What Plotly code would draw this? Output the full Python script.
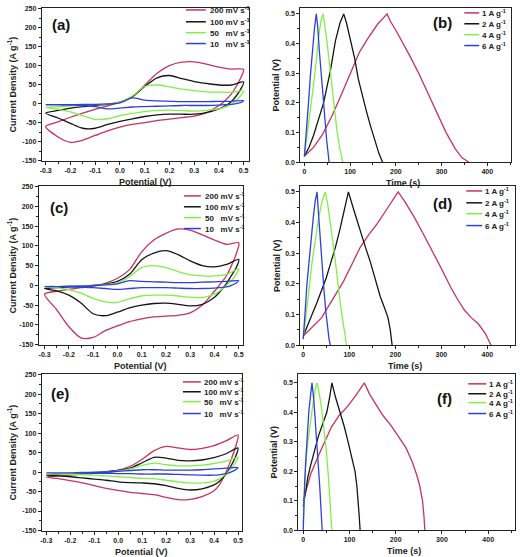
import plotly.graph_objects as go

# ---------------- DATA ----------------
CV_LABELS = ["200 mV s<sup>-1</sup>", "100 mV s<sup>-1</sup>",
             "50\u00a0\u00a0\u00a0mV s<sup>-1</sup>", "10\u00a0\u00a0\u00a0mV s<sup>-1</sup>"]
GCD_LABELS = ["1 A g<sup>-1</sup>", "2 A g<sup>-1</sup>", "4 A g<sup>-1</sup>", "6 A g<sup>-1</sup>"]

POT_UP = [-0.3, -0.25, -0.2, -0.15, -0.1, -0.05, 0.0, 0.05, 0.1, 0.15, 0.2, 0.25, 0.3, 0.35, 0.4, 0.45, 0.5]
POT_DN = [0.5, 0.49, 0.47, 0.45, 0.42, 0.4, 0.35, 0.3, 0.25, 0.2, 0.15, 0.1, 0.05, 0.0, -0.05, -0.1, -0.15, -0.2, -0.25, -0.3]

# panel (a)
A200_UP = [-60, -48, -36, -25, -15, -6, 3, 18, 48, 80, 100, 109, 110, 104, 96, 91, 90]
A200_DN = [90, 70, 45, 25, 5, -5, -24, -33, -37, -41, -45, -50, -55, -62, -72, -84, -96, -102, -88, -60]
A100_UP = [-25, -18, -12, -8, -5, -2, 4, 18, 45, 68, 74, 66, 58, 53, 49, 49, 57]
A100_DN = [57, 40, 20, 5, -8, -14, -24, -28, -28, -28, -30, -34, -40, -47, -55, -65, -65, -52, -38, -25]
A50_UP = [-10, -8, -6, -5, -3, -1, 4, 20, 45, 49, 44, 38, 34, 31, 30, 30, 33]
A50_DN = [33, 22, 8, -2, -10, -14, -18, -20, -18, -17, -18, -21, -26, -32, -40, -42, -32, -22, -15, -10]
A10_UP = [-3, -3, -3, -2, -2, -1, 2, 15, 9, 7, 6, 5, 5, 5, 6, 6, 8]
A10_DN = [8, 3, 0, -2, -3, -4, -5, -5, -5, -6, -7, -8, -9, -12, -14, -8, -5, -4, -3, -3]

# panel (c)
C200_UP = [-22, -15, -10, -6, -2, 5, 18, 40, 85, 115, 132, 143, 140, 128, 115, 104, 108]
C200_DN = [108, 80, 50, 25, 0, -15, -50, -70, -76, -78, -80, -85, -92, -103, -115, -132, -133, -105, -62, -22]
C100_UP = [-8, -6, -4, -2, 0, 3, 10, 28, 65, 82, 88, 78, 62, 50, 47, 53, 66]
C100_DN = [66, 45, 25, 5, -18, -30, -48, -52, -48, -45, -46, -50, -57, -68, -77, -72, -45, -25, -14, -8]
C50_UP = [-4, -3, -2, -1, 0, 2, 6, 22, 45, 50, 45, 35, 27, 24, 24, 28, 42]
C50_DN = [42, 28, 12, 0, -15, -22, -31, -30, -27, -25, -25, -27, -34, -43, -42, -33, -20, -11, -6, -4]
C10_UP = [-3, -3, -2, -2, -1, 1, 4, 12, 10, 9, 8, 7, 7, 8, 9, 10, 12]
C10_DN = [12, 6, 0, -4, -6, -7, -8, -8, -7, -6, -6, -6, -8, -10, -8, -6, -5, -4, -3, -3]

# panel (e)
E200_UP = [-13, -10, -8, -5, -3, 0, 5, 15, 33, 55, 66, 62, 58, 61, 68, 80, 95]
E200_DN = [95, 65, 30, 0, -35, -48, -63, -70, -71, -65, -58, -55, -52, -47, -42, -35, -28, -22, -17, -13]
E100_UP = [-8, -6, -4, -3, -1, 1, 4, 10, 24, 38, 36, 30, 29, 31, 37, 47, 62]
E100_DN = [62, 40, 15, -5, -25, -33, -43, -46, -42, -35, -30, -28, -27, -25, -21, -18, -15, -12, -10, -8]
E50_UP = [-5, -4, -3, -2, -1, 0, 3, 8, 17, 23, 19, 16, 16, 18, 22, 28, 38]
E50_DN = [38, 25, 8, -5, -18, -23, -28, -28, -25, -21, -17, -16, -14, -12, -10, -8, -7, -6, -5, -5]
E10_UP = [-2, -2, -2, -1, -1, 0, 2, 4, 6, 6, 5, 5, 5, 6, 8, 10, 12]
E10_DN = [12, 6, 0, -4, -7, -8, -8, -7, -6, -5, -5, -5, -4, -4, -3, -3, -2, -2, -2, -2]

# panel (b)
B1_T = [0, 20, 40, 60, 80, 100, 120, 140, 160, 181, 188, 200, 215, 230, 250, 270, 290, 310, 330, 345, 360]
B1_V = [0.02, 0.05, 0.095, 0.155, 0.225, 0.3, 0.37, 0.42, 0.465, 0.5, 0.475, 0.445, 0.405, 0.36, 0.3, 0.235, 0.165, 0.1, 0.045, 0.015, 0.0]
B2_T = [0, 10, 20, 30, 42, 57, 68, 78, 86, 92, 100, 110, 118, 127, 136, 145, 155, 163, 171]
B2_V = [0.02, 0.05, 0.09, 0.14, 0.2, 0.31, 0.41, 0.47, 0.5, 0.47, 0.42, 0.35, 0.28, 0.22, 0.17, 0.12, 0.07, 0.03, 0.0]
B4_T = [0, 5, 13, 19, 24, 31, 36, 41, 45, 50, 55, 60, 66, 71, 77, 84]
B4_V = [0.02, 0.08, 0.17, 0.25, 0.31, 0.42, 0.475, 0.5, 0.46, 0.4, 0.33, 0.26, 0.18, 0.11, 0.05, 0.0]
B6_T = [0, 4, 9, 13, 17, 22, 26, 29, 33, 37, 42, 46, 49, 52, 54]
B6_V = [0.02, 0.09, 0.2, 0.29, 0.37, 0.45, 0.5, 0.46, 0.37, 0.29, 0.2, 0.12, 0.07, 0.03, 0.0]

# panel (d)
D1_T = [0, 20, 40, 52, 70, 88, 106, 124, 142, 160, 180, 195, 206, 220, 240, 260, 280, 300, 320, 335, 350, 365, 380, 395, 408]
D1_V = [0.03, 0.06, 0.09, 0.12, 0.165, 0.21, 0.265, 0.32, 0.36, 0.395, 0.44, 0.475, 0.5, 0.47, 0.42, 0.365, 0.31, 0.25, 0.19, 0.15, 0.115, 0.09, 0.07, 0.04, 0.0]
D2_T = [0, 10, 20, 30, 40, 50, 60, 70, 80, 90, 98, 110, 124, 135, 146, 157, 167, 177, 184, 189, 193]
D2_V = [0.03, 0.065, 0.1, 0.14, 0.18, 0.22, 0.27, 0.32, 0.38, 0.445, 0.5, 0.44, 0.37, 0.32, 0.27, 0.21, 0.16, 0.12, 0.09, 0.05, 0.0]
D4_T = [0, 5, 9, 14, 19, 26, 34, 41, 48, 53, 59, 64, 70, 75, 81, 87, 94]
D4_V = [0.02, 0.08, 0.13, 0.2, 0.27, 0.34, 0.42, 0.47, 0.5, 0.46, 0.4, 0.34, 0.27, 0.2, 0.13, 0.07, 0.0]
D6_T = [0, 3, 5, 8, 12, 17, 22, 26, 30, 33, 37, 41, 45, 49, 52, 56, 59]
D6_V = [0.02, 0.07, 0.13, 0.2, 0.27, 0.35, 0.42, 0.47, 0.5, 0.43, 0.34, 0.26, 0.18, 0.11, 0.06, 0.02, 0.0]

# panel (f)
F1_T = [0, 8, 16, 32, 46, 61, 78, 96, 115, 132, 144, 158, 172, 190, 208, 222, 235, 245, 252, 258, 261, 263]
F1_V = [0.1, 0.15, 0.19, 0.25, 0.3, 0.35, 0.39, 0.42, 0.46, 0.5, 0.46, 0.425, 0.39, 0.355, 0.315, 0.28, 0.235, 0.19, 0.15, 0.1, 0.05, 0.0]
F2_T = [0, 5, 10, 16, 24, 33, 42, 51, 57, 62, 70, 80, 89, 97, 105, 112, 116, 119, 121, 123]
F2_V = [0.08, 0.13, 0.18, 0.22, 0.27, 0.32, 0.36, 0.4, 0.45, 0.5, 0.45, 0.4, 0.35, 0.3, 0.25, 0.2, 0.15, 0.1, 0.05, 0.0]
F4_T = [0, 2, 5, 10, 16, 22, 26, 30, 35, 40, 45, 50, 54, 57, 59, 62]
F4_V = [0.02, 0.1, 0.21, 0.3, 0.38, 0.44, 0.48, 0.5, 0.46, 0.41, 0.34, 0.27, 0.19, 0.12, 0.06, 0.0]
F6_T = [0, 1, 3, 6, 9, 12, 16, 19, 23, 26, 30, 33, 36, 38, 40, 41]
F6_V = [0.0, 0.08, 0.16, 0.25, 0.33, 0.4, 0.46, 0.5, 0.44, 0.38, 0.29, 0.21, 0.14, 0.08, 0.03, 0.0]

CV_XTICKS = [-0.3, -0.2, -0.1, 0.0, 0.1, 0.2, 0.3, 0.4, 0.5]
CV_XTEXT = ["-0.3", "-0.2", "-0.1", "0.0", "0.1", "0.2", "0.3", "0.4", "0.5"]
CV_YTICKS = [-150, -100, -50, 0, 50, 100, 150, 200, 250]
CV_YTEXT = ["-150", "-100", "-50", "0", "50", "100", "150", "200", "250"]
GCD_XTICKS = [0, 100, 200, 300, 400]
GCD_YTICKS = [0.0, 0.1, 0.2, 0.3, 0.4, 0.5]
GCD_YTEXT = ["0.0", "0.1", "0.2", "0.3", "0.4", "0.5"]

# ---------------- STYLE ----------------
W, H = 520, 557
COLORS = ["#c8325f", "#151515", "#80f048", "#2f3fdc"]
FONT = "Liberation Sans, Arial, sans-serif"


def fx(p):
    return p / W


def fy(p):
    return 1 - p / H


fig = go.Figure()

cv_sets = {
    "": [(A200_UP, A200_DN), (A100_UP, A100_DN), (A50_UP, A50_DN), (A10_UP, A10_DN)],
    "3": [(C200_UP, C200_DN), (C100_UP, C100_DN), (C50_UP, C50_DN), (C10_UP, C10_DN)],
    "5": [(E200_UP, E200_DN), (E100_UP, E100_DN), (E50_UP, E50_DN), (E10_UP, E10_DN)],
}
for sfx, sets in cv_sets.items():
    for i, (up, dn) in enumerate(sets):
        fig.add_trace(go.Scatter(
            x=POT_UP + POT_DN[1:], y=up + dn[1:], mode="lines",
            line=dict(color=COLORS[i], width=1.3, shape="spline", smoothing=0.8),
            name=CV_LABELS[i], showlegend=False,
            xaxis="x" + sfx, yaxis="y" + sfx))

gcd_sets = {
    "2": [(B1_T, B1_V), (B2_T, B2_V), (B4_T, B4_V), (B6_T, B6_V)],
    "4": [(D1_T, D1_V), (D2_T, D2_V), (D4_T, D4_V), (D6_T, D6_V)],
    "6": [(F1_T, F1_V), (F2_T, F2_V), (F4_T, F4_V), (F6_T, F6_V)],
}
for sfx, sets in gcd_sets.items():
    for i, (t, v) in enumerate(sets):
        fig.add_trace(go.Scatter(
            x=t, y=v, mode="lines",
            line=dict(color=COLORS[i], width=1.3),
            name=GCD_LABELS[i], showlegend=False,
            xaxis="x" + sfx, yaxis="y" + sfx))

# panel boxes in window pixels: (left, right, top, bottom)
BOX = {
    "": (40, 248, 5, 160),
    "2": (300, 512, 5, 161),
    "3": (37, 242, 185, 346),
    "4": (300, 516, 185, 346),
    "5": (40, 241, 375, 534),
    "6": (298, 516, 375, 533),
}
RANGES = {
    "": ([-0.316, 0.52], [-152, 252]),
    "2": ([-9, 452], [0, 0.52]),
    "3": ([-0.324, 0.516], [-152, 252]),
    "4": ([-6.5, 460], [0, 0.519]),
    "5": ([-0.319, 0.515], [-152, 252]),
    "6": ([-10.7, 458], [0, 0.53]),
}

tickfont = dict(family=FONT, size=7, color="#222", weight="bold")
common = dict(showline=True, linecolor="#222", linewidth=1, mirror=True,
              showgrid=False, zeroline=False, ticks="outside", ticklen=3,
              tickwidth=1, tickcolor="#222", tickfont=tickfont)

layout = {}
for sfx, (l, r, t, b) in BOX.items():
    xr, yr = RANGES[sfx]
    is_cv = sfx in ("", "3", "5")
    xa = dict(common, domain=[fx(l), fx(r)], anchor="y" + sfx, range=xr, ticklabelstandoff=-1)
    ya = dict(common, domain=[fy(b), fy(t)], anchor="x" + sfx, range=yr)
    if is_cv:
        xa.update(tickvals=CV_XTICKS, ticktext=CV_XTEXT,
                  minor=dict(dtick=0.05, ticks="outside", ticklen=2, tickcolor="#222"))
        ya.update(tickvals=CV_YTICKS, ticktext=CV_YTEXT,
                  minor=dict(dtick=25, ticks="outside", ticklen=2, tickcolor="#222"))
    else:
        xa.update(tickvals=GCD_XTICKS,
                  minor=dict(dtick=50, ticks="outside", ticklen=2, tickcolor="#222"))
        ya.update(tickvals=GCD_YTICKS, ticktext=GCD_YTEXT,
                  minor=dict(dtick=0.05, ticks="outside", ticklen=2, tickcolor="#222"))
    layout["xaxis" + sfx] = xa
    layout["yaxis" + sfx] = ya

annotations = []
shapes = []

# panel labels
PANEL_LABELS = [("(a)", 59, 22), ("(b)", 443, 20), ("(c)", 57, 207),
                ("(d)", 443, 203), ("(e)", 58, 395), ("(f)", 445, 400)]
for txt, x, y in PANEL_LABELS:
    annotations.append(dict(text="<b>" + txt + "</b>", x=fx(x), y=fy(y), xref="paper", yref="paper",
                            showarrow=False, xanchor="center", yanchor="middle",
                            font=dict(family=FONT, size=15, color="#111")))

# axis titles
title_font = dict(family=FONT, size=9, color="#222")
for sfx, (l, r, t, b) in BOX.items():
    is_cv = sfx in ("", "3", "5")
    xt = "<b>Potential (V)</b>" if is_cv else "<b>Time (s)</b>"
    yt = "<b>Current Density (A g<sup>-1</sup>)</b>" if is_cv else "<b>Potential (V)</b>"
    annotations.append(dict(text=xt, x=fx((l + r) / 2 + (0 if is_cv else -3)), y=fy(b + 14),
                            xref="paper", yref="paper", showarrow=False,
                            xanchor="center", yanchor="top", font=title_font))
    ytx = 10 if is_cv else l - 24
    annotations.append(dict(text=yt, x=fx(ytx), y=fy((t + b) / 2), xref="paper", yref="paper",
                            showarrow=False, textangle=-90, xanchor="center", yanchor="middle",
                            font=title_font))

# legends (line sample x0, x1, text x, rows)
LEG = {
    "": (185, 205, 207, [7, 19, 30, 41], CV_LABELS),
    "2": (465, 480, 481, [10, 21, 32, 43], GCD_LABELS),
    "3": (183, 200, 202, [195, 206, 217, 228], CV_LABELS),
    "4": (467, 483, 484, [190, 202, 213, 225], GCD_LABELS),
    "5": (182, 200, 201, [383, 393, 403, 415], CV_LABELS),
    "6": (469, 487, 488, [385, 395, 404, 415], GCD_LABELS),
}
leg_font = dict(family=FONT, size=8, color="#222")
for sfx, (x0, x1, tx, rows, labels) in LEG.items():
    for i, ry in enumerate(rows):
        shapes.append(dict(type="line", xref="paper", yref="paper",
                           x0=fx(x0), x1=fx(x1), y0=fy(ry), y1=fy(ry),
                           line=dict(color=COLORS[i], width=1.5)))
        annotations.append(dict(text="<b>" + labels[i] + "</b>", x=fx(tx), y=fy(ry),
                                xref="paper", yref="paper", showarrow=False,
                                xanchor="left", yanchor="middle", font=leg_font))

fig.update_layout(
    width=W, height=H, margin=dict(l=0, r=0, t=0, b=0),
    paper_bgcolor="white", plot_bgcolor="white",
    annotations=annotations, shapes=shapes, showlegend=False,
    **layout)

fig.write_html("out.html", config={"displayModeBar": False},
               post_script="document.body.style.margin='0px';document.body.style.overflow='hidden';")
